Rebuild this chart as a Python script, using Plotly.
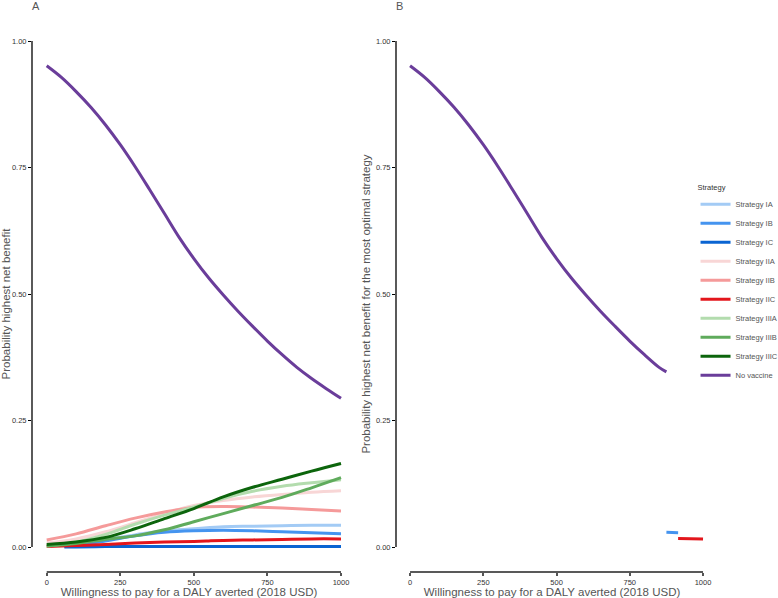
import plotly.graph_objects as go

# ---------------- data ----------------
wtp_fine = list(range(0, 1001, 50))
no_vaccine = [0.951, 0.928, 0.900, 0.869, 0.834, 0.795, 0.752, 0.706, 0.659, 0.612,
              0.570, 0.532, 0.498, 0.466, 0.436, 0.407, 0.380, 0.355, 0.333, 0.313, 0.294]

wtp = list(range(0, 1001, 100))
strat_IIA = [0.008, 0.016, 0.030, 0.048, 0.066, 0.082, 0.092, 0.099, 0.104, 0.108, 0.111]
strat_IIB = [0.014, 0.026, 0.042, 0.057, 0.069, 0.078, 0.080, 0.079, 0.077, 0.074, 0.071]
strat_IIC = [0.001, 0.003, 0.005, 0.008, 0.010, 0.011, 0.013, 0.014, 0.015, 0.016, 0.016]
strat_IIIA = [0.002, 0.010, 0.025, 0.045, 0.063, 0.079, 0.096, 0.110, 0.120, 0.127, 0.133]
strat_IIIB = [0.002, 0.007, 0.015, 0.022, 0.034, 0.050, 0.066, 0.082, 0.098, 0.117, 0.137]
strat_IIIC = [0.005, 0.010, 0.019, 0.036, 0.056, 0.076, 0.099, 0.118, 0.134, 0.150, 0.165]

wtp_blue = [60, 100, 200, 300, 400, 500, 600, 700, 800, 900, 1000]
strat_IA = [0.002, 0.006, 0.015, 0.024, 0.032, 0.036, 0.040, 0.041, 0.042, 0.043, 0.043]
strat_IB = [0.001, 0.004, 0.012, 0.022, 0.029, 0.032, 0.033, 0.032, 0.030, 0.028, 0.026]
strat_IC = [0.000, 0.000, 0.001, 0.001, 0.001, 0.001, 0.001, 0.001, 0.001, 0.001, 0.001]

# panel B: optimal strategy frontier
b_novax_x = list(range(0, 851, 50)) + [875]
b_novax_y = no_vaccine[:18] + [0.346]
b_ib_x = [875, 915]
b_ib_y = [0.029, 0.028]
b_iic_x = [915, 1000]
b_iic_y = [0.017, 0.016]

x_ticks = [0, 250, 500, 750, 1000]
y_ticks = [0, 0.25, 0.5, 0.75, 1.0]

names = ["Strategy IA", "Strategy IB", "Strategy IC", "Strategy IIA", "Strategy IIB",
         "Strategy IIC", "Strategy IIIA", "Strategy IIIB", "Strategy IIIC", "No vaccine"]
colors = ["#a3cbf5", "#4594ef", "#0a64d2", "#f8d6d6", "#f59a9a", "#e3161c",
          "#b3dcae", "#5fab5c", "#0c650c", "#6a3d9a"]

# ---------------- figure ----------------
W, H = 778, 598
fig = go.Figure()

series_A = [
    (wtp_blue, strat_IA), (wtp_blue, strat_IB), (wtp_blue, strat_IC),
    (wtp, strat_IIA), (wtp, strat_IIB), (wtp, strat_IIC),
    (wtp, strat_IIIA), (wtp, strat_IIIB), (wtp, strat_IIIC),
    (wtp_fine, no_vaccine),
]
for (xs, ys), nm, col in zip(series_A, names, colors):
    fig.add_trace(go.Scatter(x=xs, y=ys, mode="lines", name=nm,
                             line=dict(color=col, width=3, shape="spline"),
                             xaxis="x", yaxis="y", showlegend=True))

for xs, ys, idx in [(b_novax_x, b_novax_y, 9), (b_ib_x, b_ib_y, 1), (b_iic_x, b_iic_y, 5)]:
    fig.add_trace(go.Scatter(x=xs, y=ys, mode="lines", name=names[idx],
                             line=dict(color=colors[idx], width=3, shape="spline"),
                             xaxis="x2", yaxis="y2", showlegend=False))

xdomA = [32 / W, 346 / W]
xdomB = [396 / W, 708 / W]
ydom = [1 - 572 / H, 1 - 36 / H]
xrngA = [-50, 1017]
xrngB = [-48, 1017]
yrng = [-0.0494, 1.0099]

FONT = "Liberation Sans, Arial, sans-serif"
tickfont = dict(family=FONT, size=7.5, color="#333333")
titlefont = dict(family=FONT, size=11.5, color="#555555")

def xaxis(dom, rng):
    return dict(domain=dom, range=rng, showgrid=False, zeroline=False, showline=False,
                ticks="outside", ticklen=3, tickwidth=1.5, tickcolor="#555555",
                tickvals=x_ticks, tickfont=tickfont, automargin=False,
                title=dict(text="Willingness to pay for a DALY averted (2018 USD)",
                           font=titlefont, standoff=1))

def yaxis(rng, title, anchor):
    return dict(domain=ydom, range=rng, showgrid=False, zeroline=False, showline=False,
                ticks="outside", ticklen=3, tickwidth=1.2, tickcolor="#000000",
                tickvals=y_ticks, tickformat=".2f", tickfont=tickfont, automargin=False,
                anchor=anchor, title=dict(text=title, font=titlefont, standoff=2))

fig.update_layout(
    width=W, height=H,
    margin=dict(l=0, r=0, t=0, b=0, autoexpand=False),
    paper_bgcolor="white", plot_bgcolor="white",
    xaxis=xaxis(xdomA, xrngA) | dict(anchor="y"),
    xaxis2=xaxis(xdomB, xrngB) | dict(anchor="y2"),
    yaxis=yaxis(yrng, "Probability highest net benefit", "x"),
    yaxis2=yaxis(yrng, "Probability highest net benefit for the most optimal strategy", "x2"),
    legend=dict(x=0.894, y=1 - 180 / H, xanchor="left", yanchor="top",
                font=dict(family=FONT, size=7.5, color="#555555"),
                title=dict(text="Strategy", font=dict(family=FONT, size=7.5, color="#333333")),
                bgcolor="rgba(0,0,0,0)"),
)

# capped axis lines (span only the data range), positioned through each axis scale
def to_paper(v, rng, dom):
    return dom[0] + (v - rng[0]) / (rng[1] - rng[0]) * (dom[1] - dom[0])

shapes = []
for xdom, xrng in [(xdomA, xrngA), (xdomB, xrngB)]:
    shapes.append(dict(type="line", xref="paper", yref="paper",
                       x0=xdom[0], x1=xdom[0],
                       y0=to_paper(y_ticks[0], yrng, ydom), y1=to_paper(y_ticks[-1], yrng, ydom),
                       line=dict(color="#000000", width=1.3)))
    shapes.append(dict(type="line", xref="paper", yref="paper",
                       x0=to_paper(x_ticks[0], xrng, xdom), x1=to_paper(x_ticks[-1], xrng, xdom),
                       y0=ydom[0], y1=ydom[0],
                       line=dict(color="#595959", width=2)))
fig.update_layout(shapes=shapes)

for lab, xp in [("A", 36), ("B", 399)]:
    fig.add_annotation(text=lab, x=xp / W, y=1 - 6 / H, xref="paper", yref="paper",
                       showarrow=False, xanchor="center", yanchor="middle",
                       font=dict(family=FONT, size=11, color="#555555"))

fig.write_html("out.html", config={"displayModeBar": False},
               post_script="document.body.style.margin='0';document.body.style.overflow='hidden';")
